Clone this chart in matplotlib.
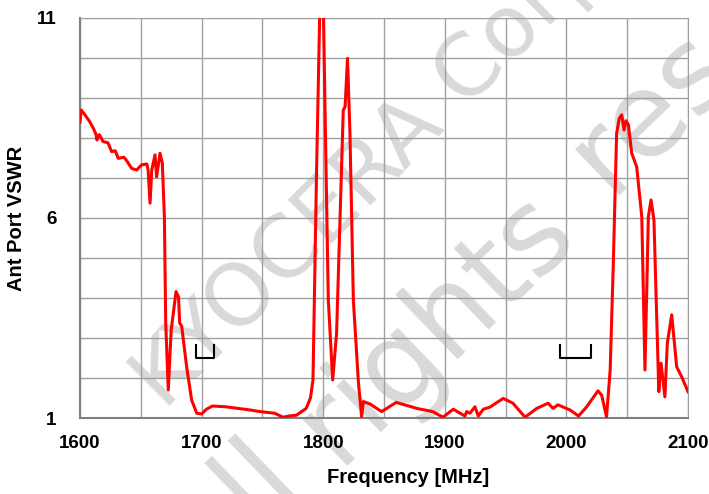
import numpy as np
import matplotlib.pyplot as plt

plt.rcParams['font.family'] = ['Liberation Sans', 'DejaVu Sans']

# frequency (MHz) and VSWR
freq = [1600, 1601, 1604, 1608, 1611, 1613, 1614, 1615, 1616, 1619, 1623, 1626, 1629, 1631.5,
        1636, 1638, 1642.5, 1646.6, 1650.7, 1655, 1656, 1657.6, 1659, 1661.7, 1663, 1665.8,
        1667.7, 1669.4, 1670.5, 1672.6, 1675, 1679, 1681, 1682, 1683.6, 1687.7, 1691.8, 1696,
        1700, 1704, 1709, 1720, 1730, 1740, 1748, 1760, 1767, 1772, 1778, 1786, 1789.5, 1791.6,
        1794.6, 1797.4, 1798.7, 1800, 1802.3, 1804.2, 1807.8, 1811, 1814.3, 1816.5, 1818,
        1820, 1822, 1824.8, 1829, 1831.6, 1833, 1838.5, 1848, 1860, 1877, 1890, 1898.5, 1907,
        1912.5, 1916.6, 1918, 1920.7, 1924.8, 1927.5, 1931.7, 1937, 1948, 1956, 1966, 1975.6,
        1985, 1989, 1993, 2003, 2010, 2016.7, 2026, 2029, 2033, 2036, 2038.5, 2041.3, 2043.5,
        2045.5, 2047.4, 2049, 2051, 2053.7, 2057.8, 2062, 2064.6, 2067.4, 2069.6, 2072, 2076,
        2077.8, 2081, 2083, 2086.6, 2090.7, 2094.8, 2100]
vswr = [8.4, 8.7, 8.58, 8.41, 8.24, 8.1, 7.95, 8.05, 8.08, 7.91, 7.88, 7.66, 7.68, 7.49,
        7.52, 7.45, 7.24, 7.2, 7.33, 7.35, 7.2, 6.37, 7.2, 7.58, 7.03, 7.62,
        7.37, 6.03, 3.37, 1.7, 3.2, 4.16, 4.03, 3.37, 3.3, 2.28, 1.45, 1.12,
        1.1, 1.22, 1.3, 1.28, 1.24, 1.2, 1.16, 1.12, 1.02, 1.05, 1.07, 1.24, 1.5, 1.95,
        7.28, 11.5, 12.5, 11.5, 7.28, 3.95, 1.95, 3.12, 6.45, 8.7, 8.78,
        9.99, 8.12, 3.95, 1.87, 1.03, 1.41, 1.35, 1.16, 1.39, 1.24, 1.16, 1.02, 1.22,
        1.12, 1.05, 1.16, 1.12, 1.28, 1.05, 1.22, 1.27, 1.49, 1.37, 1.02, 1.24,
        1.37, 1.24, 1.33, 1.2, 1.05, 1.28, 1.68, 1.57, 1.03, 2.2, 4.78, 8.12, 8.49,
        8.58, 8.2, 8.43, 8.33, 7.62, 7.28, 6.03, 2.2, 6.03, 6.45, 5.95, 1.66,
        2.37, 1.53, 2.87, 3.58, 2.28, 2.03, 1.66]

# band brackets
bands = [(1695, 1710), (1995, 2020)]
bracket_top = 2.83
bracket_bottom = 2.49

fig = plt.figure(figsize=(7.09, 4.94), dpi=100)
ax = fig.add_axes([80/709, 1-418/494, 608/709, 400/494])

ax.plot(freq, vswr, color='red', lw=2.2, zorder=3)
for lo, hi in bands:
    ax.plot([lo, lo, hi, hi], [bracket_top, bracket_bottom, bracket_bottom, bracket_top],
            color='black', lw=1.5, zorder=3)

ax.set_xlim(1600, 2100)
ax.set_ylim(1, 11)
ax.set_xticks(np.arange(1600, 2101, 50), minor=True)
ax.set_xticks(np.arange(1600, 2101, 100))
ax.set_yticks(np.arange(1, 12, 1), minor=True)
ax.set_yticks([1, 6, 11])
ax.grid(True, which='both', color='#a0a0a0', lw=1)
ax.tick_params(which='both', length=0, labelsize=13.5)
ax.tick_params(axis='x', pad=12)
ax.tick_params(axis='y', pad=17)
for lab in ax.get_xticklabels() + ax.get_yticklabels():
    lab.set_fontweight('bold')
for s in ['top', 'right']:
    ax.spines[s].set_color('#a0a0a0')
for s in ['left', 'bottom']:
    ax.spines[s].set_color('#808080')
    ax.spines[s].set_linewidth(1.5)
ax.set_xlabel('Frequency [MHz]', fontsize=14.5, fontweight='bold', labelpad=12, x=0.54)
ax.set_ylabel('Ant Port VSWR', fontsize=14.5, fontweight='bold', labelpad=8)

# watermark, behind grid and curve
wm = dict(color='#d9d9d9', family='DejaVu Sans', ha='center', va='center',
          rotation_mode='anchor', transform=fig.transFigure, clip_on=False, zorder=0.5)
ax.text(0.536, 0.672, 'KYOCERA Corp.', fontsize=62, rotation=45, **wm)
ax.text(0.326, -0.045, 'All', fontsize=84, rotation=44, **wm)
ax.text(0.6135, 0.340, 'rights', fontsize=84, rotation=44, **wm)
ax.text(1.087, 1.012, 'reserved', fontsize=84, rotation=44, **wm)

fig.savefig('out.png', dpi=100)
